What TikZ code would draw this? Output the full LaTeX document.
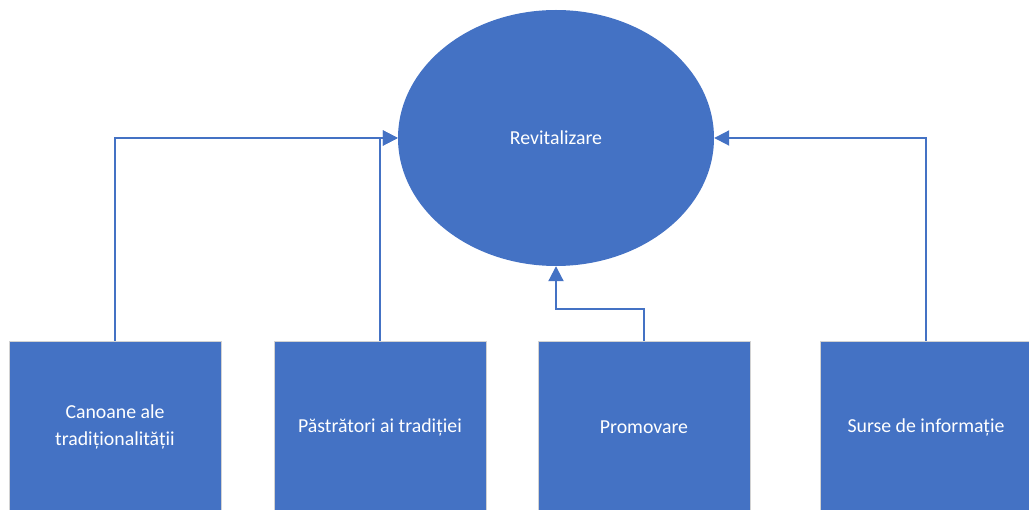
\documentclass[tikz,border=0pt]{standalone}
\usepackage{fontspec}
\setmainfont{Carlito}
\usetikzlibrary{arrows.meta,shapes.geometric}
\definecolor{blu}{HTML}{4472C4}
\begin{document}
\begin{tikzpicture}[x=1pt,y=-1pt,
  boxstyle/.style={rectangle,fill=blu,draw=gray!35,line width=0.6pt,minimum width=212pt,minimum height=172pt,anchor=north,text=white,align=center,font=\fontsize{19.8}{27}\selectfont,inner sep=0pt},
  conn/.style={draw=blu,line width=2pt,-{Triangle[length=15pt,width=15pt]}}]
\useasboundingbox (0,0) rectangle (1029,510);
\node[ellipse,fill=blu,minimum width=316pt,minimum height=256pt,inner sep=0pt,text=white,font=\fontsize{19.8}{27}\selectfont] (ell) at (556,138) {Revitalizare};
\node[boxstyle] (b1) at (115,341) {Canoane ale\\tradiționalității};
\node[boxstyle] (b2) at (380,341) {Păstrători ai tradiției};
\node[boxstyle] (b3) at (644,341) {Promovare};
\node[boxstyle] (b4) at (926,341) {Surse de informație};
\draw[conn] (b1.north) |- (ell.west);
\draw[conn] (b2.north) |- (ell.west);
\coordinate (k3) at (644,309);
\draw[conn] (b3.north) -- (k3) -| (ell.south);
\draw[conn] (b4.north) |- (ell.east);
\end{tikzpicture}
\end{document}
